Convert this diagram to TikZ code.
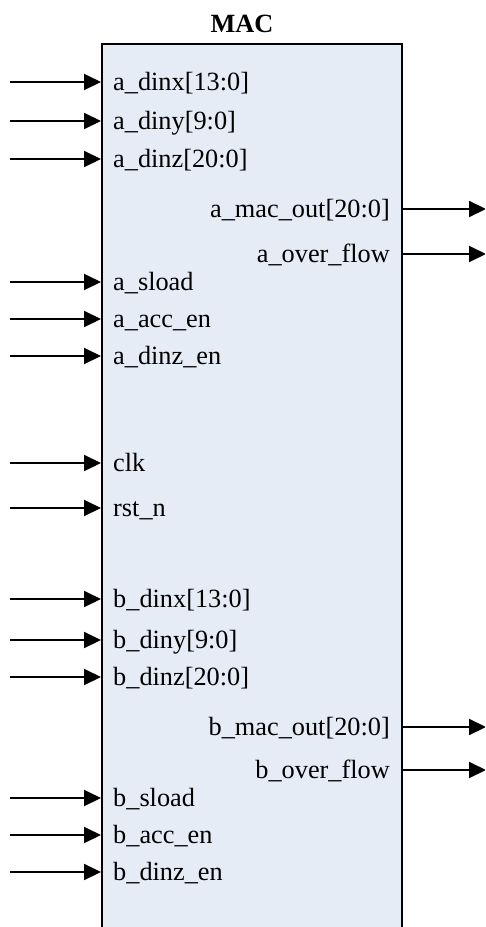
\documentclass[tikz,border=0pt]{standalone}
\usepackage{fontspec}
\setmainfont{Liberation Serif}
\usetikzlibrary{arrows.meta}
\definecolor{blockfill}{RGB}{229,236,246}
\begin{document}
\begin{tikzpicture}[x=1pt,y=-1pt,
  sig/.style={line width=2pt,-{Triangle[length=17pt,width=16pt]}},
  portlabel/.style={font=\fontsize{26.3}{30}\selectfont,inner sep=0pt},
  titlelabel/.style={font=\fontsize{26.3}{30}\selectfont\bfseries,inner sep=0pt},
  block/.style={draw=black,line width=2pt,fill=blockfill,inner sep=0pt,
    minimum width=300pt,minimum height=920pt}]
\clip (0,0) rectangle (485,927);
% the MAC block, running past the lower edge
\node[block,anchor=north west] (mac) at (101,43) {};
\node[titlelabel,anchor=base] (title) at (242,32) {MAC};
% input ports
\foreach \y/\t/\n in {
  82/{a\_dinx[13:0]}/adinx,
  121/{a\_diny[9:0]}/adiny,
  159/{a\_dinz[20:0]}/adinz,
  282/{a\_sload}/asload,
  319/{a\_acc\_en}/aaccen,
  356/{a\_dinz\_en}/adinzen,
  463/{clk}/clk,
  508/{rst\_n}/rstn,
  599/{b\_dinx[13:0]}/bdinx,
  640/{b\_diny[9:0]}/bdiny,
  677/{b\_dinz[20:0]}/bdinz,
  798/{b\_sload}/bsload,
  835/{b\_acc\_en}/baccen,
  872/{b\_dinz\_en}/bdinzen}{
  \coordinate (src-\n) at (10,\y);
  \draw[sig] (src-\n) -- (mac.west |- src-\n);
  \node[portlabel,anchor=base west] (lbl-\n) at (113,\y+8) {\t};
}
% output ports
\foreach \y/\t/\n in {
  209/{a\_mac\_out[20:0]}/amacout,
  254/{a\_over\_flow}/aoverflow,
  727/{b\_mac\_out[20:0]}/bmacout,
  770/{b\_over\_flow}/boverflow}{
  \coordinate (dst-\n) at (486,\y);
  \draw[sig] (mac.east |- dst-\n) -- (dst-\n);
  \node[portlabel,anchor=base east] (lbl-\n) at (390,\y+8) {\t};
}
\end{tikzpicture}
\end{document}
